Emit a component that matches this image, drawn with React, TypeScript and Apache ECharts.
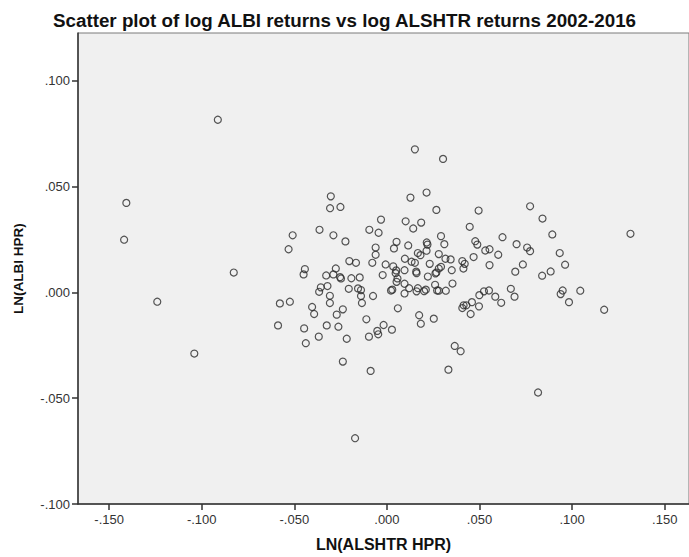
import React, { useEffect, useRef } from "react";
import * as echarts from "echarts";

const titleText = "Scatter plot of log ALBI returns vs log ALSHTR returns 2002-2016";
const xAxisTitle = "LN(ALSHTR HPR)";
const yAxisTitle = "LN(ALBI HPR)";
const xTicks = [-0.15, -0.1, -0.05, 0, 0.05, 0.1, 0.15];
const yTicks = [-0.1, -0.05, 0, 0.05, 0.1];

// [LN(ALSHTR HPR), LN(ALBI HPR)] pairs
const outerPoints: number[][] = [
  [-0.0913, 0.0816], [-0.1407, 0.0423], [-0.1419, 0.0249], [-0.0827, 0.0094],
  [-0.124, -0.0044], [-0.104, -0.0289], [-0.0509, 0.027], [-0.0531, 0.0204],
  [-0.0443, 0.011], [-0.045, 0.0085], [-0.0578, -0.0052], [-0.0524, -0.0044],
  [-0.0588, -0.0156], [-0.0447, -0.017], [-0.0438, -0.024],
];
const upperPoints: number[][] = [
  [0.0151, 0.0676], [0.0303, 0.0631], [-0.0303, 0.0454], [-0.0307, 0.0398],
  [-0.0251, 0.0404], [0.0127, 0.0448], [0.0214, 0.0472], [0.0267, 0.039],
  [0.0495, 0.0387], [0.0773, 0.0407], [0.084, 0.0349], [0.0893, 0.0274],
  [0.1315, 0.0277], [-0.0364, 0.0296], [-0.0289, 0.027], [-0.0224, 0.0241],
  [-0.0032, 0.0344], [-0.0095, 0.0296], [-0.0045, 0.0282], [0.0101, 0.0336],
  [0.0185, 0.033], [0.0142, 0.0302], [0.0447, 0.031], [0.0292, 0.0266],
  [0.031, 0.0228], [0.0624, 0.0261], [0.07, 0.0228], [0.0757, 0.0212],
  [0.0773, 0.0195], [0.0933, 0.0186], [0.0962, 0.0131], [0.0884, 0.0099],
  [0.0838, 0.0079], [0.0734, 0.0132], [0.0693, 0.0098], [0.0601, 0.0178],
  [0.0554, 0.0204], [0.0531, 0.0198], [0.0477, 0.0242], [0.0488, 0.0226],
  [0.0468, 0.0167], [0.0554, 0.0129],
];
const centerPoints: number[][] = [
  [0.0052, 0.0239], [0.0038, 0.0208], [0.0115, 0.0222], [0.0215, 0.0236],
  [0.0219, 0.0226], [0.0214, 0.0197], [0.0167, 0.0186], [0.0181, 0.0176],
  [0.028, 0.0181], [0.0316, 0.0159], [0.0344, 0.0156], [0.0097, 0.0159],
  [0.0133, 0.0145], [0.0151, 0.014], [0.0231, 0.0135], [0.0292, 0.0121],
  [0.028, 0.0113], [0.035, 0.0105], [0.0407, 0.0148], [0.042, 0.0135],
  [0.0413, 0.0113], [0.0158, 0.0098], [0.016, 0.0091], [0.0221, 0.0075],
  [0.0262, 0.009], [0.0267, 0.0094], [0.0354, 0.0042], [-0.0061, 0.0212],
  [-0.0061, 0.0178], [-0.0079, 0.014], [-0.0007, 0.0132], [0.0034, 0.0123],
  [0.005, 0.0104], [0.0047, 0.0091], [0.0095, 0.0105], [-0.0023, 0.0082],
  [-0.0203, 0.0148], [-0.0167, 0.014], [-0.0276, 0.0113], [-0.0328, 0.008],
  [-0.0289, 0.0085], [-0.0253, 0.0072], [-0.0248, 0.0066], [-0.0192, 0.0067],
  [-0.0147, 0.0071], [-0.0321, 0.003], [-0.0357, 0.0024], [-0.0366, 0.0003],
  [-0.0206, 0.0017], [-0.0156, 0.0019], [-0.014, 0.0011], [-0.0075, -0.0017],
  [-0.0308, -0.0016], [-0.014, -0.0017], [-0.0308, -0.005], [-0.0135, -0.005],
  [0.0057, 0.0066], [0.0052, 0.005], [0.0095, 0.0041], [0.012, 0.002],
  [0.0029, 0.0013], [0.0022, 0.0009], [0.0095, -0.0005], [0.0167, 0.002],
  [0.016, 0.0005], [0.021, 0.0013], [0.0201, 0.0006], [0.026, 0.0036],
  [0.0271, 0.0009], [0.028, 0.0008], [0.0318, 0.0008],
];
const lowerPoints: number[][] = [
  [0.0059, -0.0075], [-0.0404, -0.0069], [-0.0393, -0.0102], [-0.0271, -0.0105],
  [-0.0238, -0.008], [-0.0111, -0.0127], [0.0174, -0.0108], [0.0253, -0.0124],
  [0.0414, -0.0061], [0.0407, -0.0074], [0.0429, -0.0061], [0.0459, -0.0046],
  [0.0499, -0.0013], [0.0524, 0.0005], [0.0551, 0.0009], [0.0452, -0.0102],
  [0.0497, -0.0066], [0.0585, -0.002], [0.0617, -0.0049], [0.0669, 0.0017],
  [0.0689, -0.002], [0.0949, 0.0009], [0.0938, -0.0008], [0.1044, 0.0008],
  [0.0983, -0.0046], [0.1173, -0.0082], [-0.0325, -0.0156], [-0.0262, -0.0162],
  [-0.0368, -0.0209], [-0.0217, -0.0219], [-0.0018, -0.0154], [-0.0052, -0.0182],
  [-0.0047, -0.0198], [-0.0097, -0.0209], [0.0027, -0.0176], [0.0183, -0.0148],
  [-0.0238, -0.0327], [-0.0088, -0.0371], [0.0366, -0.0253], [0.0398, -0.0278],
  [0.0332, -0.0365], [0.0816, -0.0473], [-0.0172, -0.0689],
];

const fmt = (v: number) => {
  const s = Math.abs(v).toFixed(3).replace(/^0/, "");
  return (v < -1e-9 ? "-" : "") + s;
};

export default function App() {
  const ref = useRef<HTMLDivElement>(null);
  useEffect(() => {
    if (!ref.current) return;
    const chart = echarts.init(ref.current, null, { renderer: "svg" });
    const data = [...outerPoints, ...upperPoints, ...centerPoints, ...lowerPoints];
    const labelStyle = {
      color: "#333",
      fontSize: 13,
      fontFamily: "Liberation Sans, Arial, sans-serif",
    };
    const nameFont = "Liberation Sans, Arial, sans-serif";
    chart.setOption({
      animation: false,
      backgroundColor: "#ffffff",
      title: {
        text: titleText,
        left: "center",
        top: 6,
        textStyle: {
          color: "#111",
          fontSize: 18.8,
          fontWeight: "bold",
          fontFamily: "Liberation Sans, Arial, sans-serif",
        },
      },
      grid: {
        left: 78,
        top: 33,
        right: -2,
        bottom: 52,
        show: true,
        backgroundColor: "#f0f0f0",
        borderColor: "#7a7a7a",
        borderWidth: 1,
      },
      xAxis: {
        type: "value",
        min: -0.1668,
        max: 0.1631,
        name: xAxisTitle,
        nameLocation: "middle",
        nameGap: 32,
        nameTextStyle: { color: "#111", fontSize: 16, fontWeight: "bold", fontFamily: nameFont },
        splitLine: { show: false },
        axisLine: { show: true, onZero: false, lineStyle: { color: "#333", width: 1.5 } },
        axisTick: { show: true, length: 6, customValues: xTicks, lineStyle: { color: "#333", width: 1.5 } },
        axisLabel: { ...labelStyle, margin: 9, customValues: xTicks, formatter: fmt },
      },
      yAxis: {
        type: "value",
        min: -0.1,
        max: 0.1226,
        name: yAxisTitle,
        nameLocation: "middle",
        nameGap: 53,
        nameTextStyle: { color: "#111", fontSize: 13.5, fontWeight: "bold", fontFamily: nameFont },
        splitLine: { show: false },
        axisLine: { show: true, onZero: false, lineStyle: { color: "#333", width: 1.5 } },
        axisTick: { show: true, length: 6, customValues: yTicks, lineStyle: { color: "#333", width: 1.5 } },
        axisLabel: { ...labelStyle, margin: 8, customValues: yTicks, formatter: fmt },
      },
      series: [
        {
          type: "scatter",
          data,
          symbol: "circle",
          symbolSize: 7,
          itemStyle: { color: "rgba(0,0,0,0)", borderColor: "#2a2a2a", borderWidth: 1.2 },
          emphasis: { disabled: true },
        },
      ],
    });
    return () => chart.dispose();
  }, []);
  return (
    <div
      ref={ref}
      style={{ position: "absolute", left: 0, top: 0, width: 689, height: 557 }}
    />
  );
}
